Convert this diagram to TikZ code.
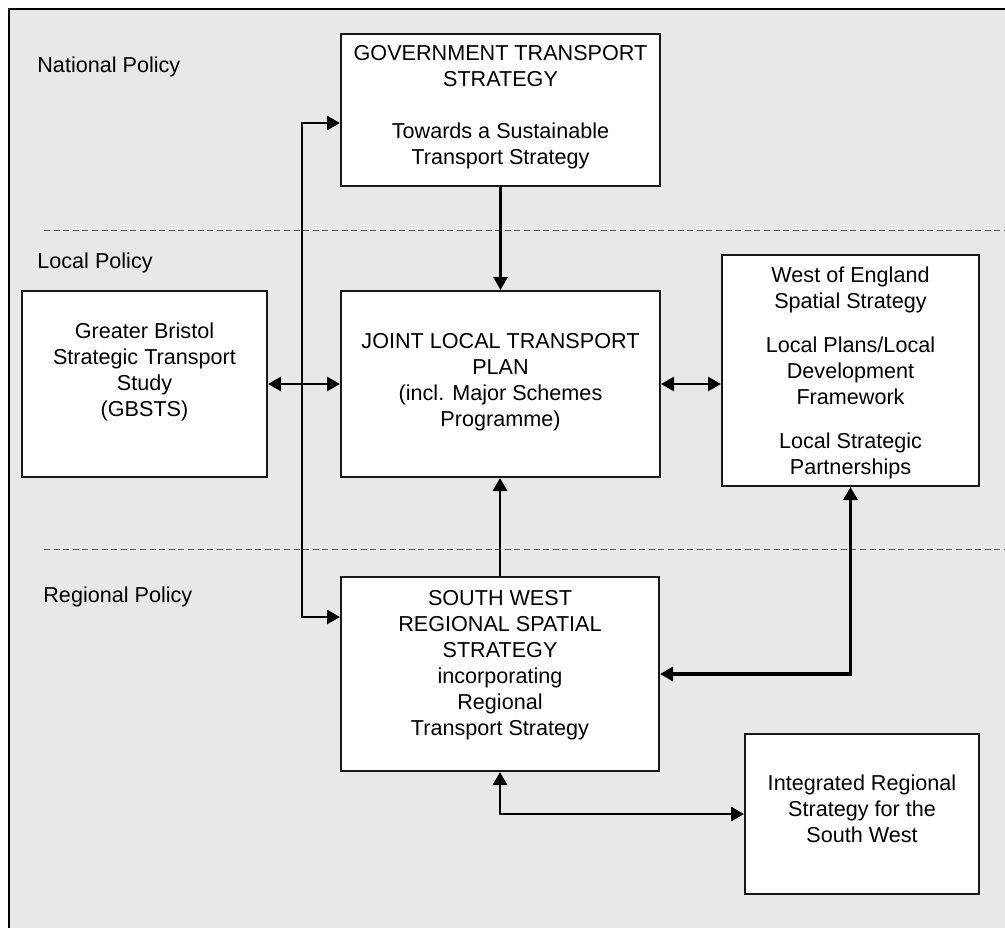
\documentclass[tikz,border=0pt]{standalone}
\usepackage{fontspec}
\setmainfont{Liberation Sans}
\usetikzlibrary{arrows.meta}
\definecolor{bg}{HTML}{E8E8E8}
\begin{document}
\begin{tikzpicture}[x=0.5pt,y=-0.5pt,
  box/.style={draw=black!90, line width=1pt, fill=white, inner sep=0pt},
  txt/.style={align=center, font=\fontsize{10.8}{13}\selectfont, inner sep=0pt},
  lvl/.style={font=\fontsize{10.8}{13}\selectfont, anchor=west, inner sep=0pt},
  tip/.style={Triangle[length=6.5pt,width=7pt]},
  conn/.style={line width=1.4pt, {Triangle[length=6.5pt,width=7pt]}-{Triangle[length=6.5pt,width=7pt]}},
  one/.style={line width=1.4pt, -{Triangle[length=6.5pt,width=7pt]}},
  sep/.style={draw=black!65, line width=0.5pt, dash pattern=on 3pt off 1.8pt}]
\useasboundingbox (0,0) rectangle (1005,927);
\begin{scope}
\clip (0,0) rectangle (1005,927);
\draw[fill=bg, line width=0.8pt] (9,9) rectangle (1030,950);
\end{scope}
\draw[sep] (44,230) -- (1005,230);
\draw[sep] (44,549) -- (1005,549);

\node[lvl] (np) at (37,67) {National Policy};
\node[lvl] (lp) at (37,263) {Local Policy};
\node[lvl] (rp) at (43,597) {Regional Policy};

\node[box, minimum width=159.5pt, minimum height=76pt,
  label={[txt,yshift=1.5pt]center:GOVERNMENT TRANSPORT\\STRATEGY\\[13pt]Towards a Sustainable\\Transport Strategy}] (gov) at (500.5,110) {};
\node[box, minimum width=159.5pt, minimum height=93pt,
  label={[txt,yshift=1pt]center:JOINT LOCAL TRANSPORT\\PLAN\\(incl. Major Schemes\\Programme)}] (jltp) at (500.5,384) {};
\node[box, minimum width=122.5pt, minimum height=93pt,
  label={[txt,yshift=6pt]center:Greater Bristol\\Strategic Transport\\Study\\(GBSTS)}] (gb) at (144.5,384) {};
\node[box, minimum width=128.5pt, minimum height=115.5pt,
  label={[txt,yshift=-1pt]center:West of England\\Spatial Strategy\\[9pt]Local Plans/Local\\Development\\Framework\\[9pt]Local Strategic\\Partnerships}] (woe) at (850.5,370.5) {};
\node[box, minimum width=159pt, minimum height=97pt,
  label={[txt,yshift=4.5pt]center:SOUTH WEST\\REGIONAL SPATIAL\\STRATEGY\\incorporating\\Regional\\Transport Strategy}] (sw) at (500,674) {};
\node[box, minimum width=117pt, minimum height=80pt,
  label={[txt,yshift=2.5pt]center:Integrated Regional\\Strategy for the\\South West}] (irs) at (862,814) {};

\coordinate (bt) at (302,123);
\coordinate (bb) at (302,617);

\draw[one] (gov) -- (jltp);
\draw[one] (sw.north) -- (sw.north |- jltp.south);
\draw[conn] (gb) -- (jltp);
\draw[conn] (jltp) -- (woe.west |- jltp.east);
\draw[conn] (gov.west |- bt) -- (bt) -- (bb) -- (sw.west |- bb);
\draw[conn, line width=1.6pt] (woe.south) -- (woe.south |- sw.east) -- (sw.east);
\draw[conn] (sw.south) -- (sw.south |- irs.west) -- (irs.west);
\end{tikzpicture}
\end{document}
